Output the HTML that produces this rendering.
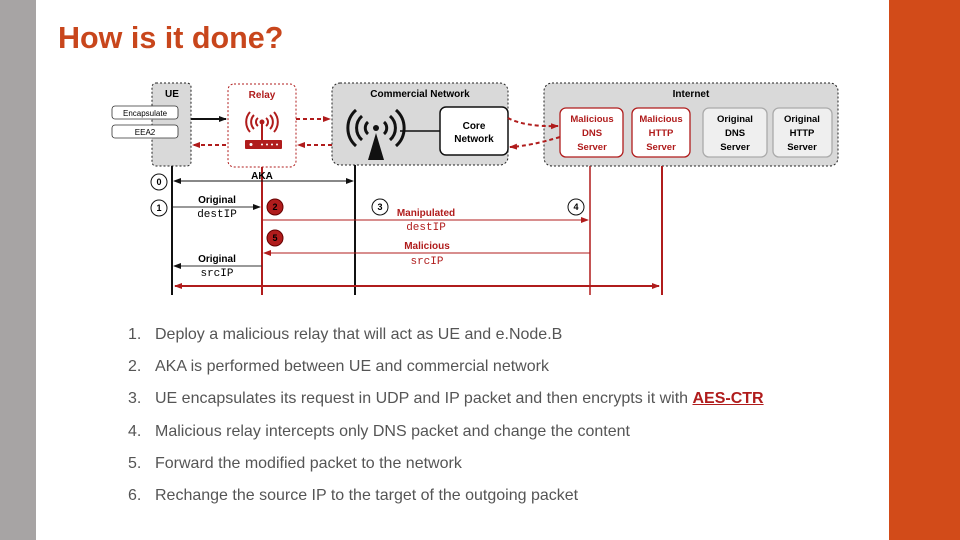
<!DOCTYPE html>
<html><head><style>
body{margin:0;width:960px;height:540px;position:relative;background:#fff;font-family:"Liberation Sans",sans-serif;overflow:hidden}
.l{position:absolute;left:0;top:0;width:36px;height:540px;background:#a7a4a4}
.r{position:absolute;left:889px;top:0;width:71px;height:540px;background:#d24b19}
h1{position:absolute;left:58px;top:21px;margin:0;font-size:30.5px;font-weight:bold;color:#c8461c}
.it{position:absolute;left:128px;font-size:16px;color:#555}
.it span{position:absolute;left:27px;white-space:nowrap}
</style></head><body>
<div class="l"></div><div class="r"></div>
<h1>How is it done?</h1>
<svg style="position:absolute;left:0;top:0" width="960" height="540" font-family="Liberation Sans" font-weight="bold">
<defs>
<marker id="ak" markerWidth="8" markerHeight="8" refX="7" refY="4" orient="auto-start-reverse" markerUnits="userSpaceOnUse"><path d="M0,1 L8,4 L0,7z" fill="#111"/></marker>
<marker id="ar" markerWidth="8" markerHeight="8" refX="7" refY="4" orient="auto-start-reverse" markerUnits="userSpaceOnUse"><path d="M0,1 L8,4 L0,7z" fill="#b01c1c"/></marker>
</defs>
<rect x="152" y="83" width="39" height="83" rx="4" fill="#d9d9d9" stroke="#222" stroke-dasharray="2,2"/>
<text x="172" y="97" font-size="10" text-anchor="middle">UE</text>
<rect x="112" y="106" width="66" height="13" rx="3" fill="#fff" stroke="#333" stroke-width="0.8"/>
<text x="145" y="116" font-size="8" font-weight="normal" text-anchor="middle">Encapsulate</text>
<rect x="112" y="125" width="66" height="13" rx="3" fill="#fff" stroke="#333" stroke-width="0.8"/>
<text x="145" y="135" font-size="8" font-weight="normal" text-anchor="middle">EEA2</text>
<rect x="228" y="84" width="68" height="83" rx="6" fill="#fff" stroke="#b01c1c" stroke-dasharray="2,2"/>
<text x="262" y="98" font-size="10" fill="#b01c1c" text-anchor="middle">Relay</text>
<g fill="none" stroke="#b01c1c" stroke-width="2"><path d="M258,126 a5,5 0 0 1 0,-8 M266,118 a5,5 0 0 1 0,8 M254,129 a10,10 0 0 1 0,-14 M270,115 a10,10 0 0 1 0,14 M250,132 a15,15 0 0 1 0,-20 M274,112 a15,15 0 0 1 0,20"/><line x1="262" y1="122" x2="262" y2="140"/></g>
<circle cx="262" cy="122" r="2.5" fill="#b01c1c"/>
<rect x="245" y="140" width="37" height="9" rx="1" fill="#b01c1c"/>
<g fill="#fff"><circle cx="251" cy="144.5" r="1.5"/><circle cx="262" cy="144.5" r="1"/><circle cx="267" cy="144.5" r="1"/><circle cx="272" cy="144.5" r="1"/><circle cx="277" cy="144.5" r="1"/></g>
<rect x="332" y="83" width="176" height="82" rx="8" fill="#d9d9d9" stroke="#222" stroke-dasharray="2,2"/>
<text x="420" y="97" font-size="10" text-anchor="middle">Commercial Network</text>
<g fill="none" stroke="#111" stroke-width="3"><path d="M368,134 a8,8 0 0 1 0,-12 M384,122 a8,8 0 0 1 0,12 M362,140 a16,16 0 0 1 0,-24 M390,116 a16,16 0 0 1 0,24 M356,146 a24,24 0 0 1 0,-36 M396,110 a24,24 0 0 1 0,36"/></g>
<circle cx="376" cy="128" r="3" fill="#111"/><path d="M376,133 L384,160 L368,160z" fill="#111"/>
<line x1="400" y1="131" x2="440" y2="131" stroke="#111" stroke-width="1.5"/>
<rect x="440" y="107" width="68" height="48" rx="6" fill="#fff" stroke="#111" stroke-width="1.5"/>
<text x="474" y="129" font-size="10" text-anchor="middle">Core</text><text x="474" y="142" font-size="10" text-anchor="middle">Network</text>
<rect x="544" y="83" width="294" height="83" rx="8" fill="#d9d9d9" stroke="#222" stroke-dasharray="2,2"/>
<text x="691" y="97" font-size="10" text-anchor="middle">Internet</text>
<g font-size="9.5" text-anchor="middle">
<rect x="560" y="108" width="63" height="49" rx="6" fill="#fff" stroke="#b01c1c" stroke-width="1.3"/>
<text x="592" y="122" fill="#b01c1c">Malicious</text><text x="592" y="136" fill="#b01c1c">DNS</text><text x="592" y="150" fill="#b01c1c">Server</text>
<rect x="632" y="108" width="58" height="49" rx="6" fill="#fff" stroke="#b01c1c" stroke-width="1.3"/>
<text x="661" y="122" fill="#b01c1c">Malicious</text><text x="661" y="136" fill="#b01c1c">HTTP</text><text x="661" y="150" fill="#b01c1c">Server</text>
<rect x="703" y="108" width="64" height="49" rx="6" fill="#efefef" stroke="#aaa" stroke-width="1.3"/>
<text x="735" y="122">Original</text><text x="735" y="136">DNS</text><text x="735" y="150">Server</text>
<rect x="773" y="108" width="59" height="49" rx="6" fill="#efefef" stroke="#aaa" stroke-width="1.3"/>
<text x="802" y="122">Original</text><text x="802" y="136">HTTP</text><text x="802" y="150">Server</text>
</g>
<line x1="191" y1="119" x2="226" y2="119" stroke="#111" stroke-width="2" marker-end="url(#ak)"/>
<g stroke="#b01c1c" stroke-width="2" stroke-dasharray="4,3" fill="none">
<line x1="296" y1="119" x2="330" y2="119" marker-end="url(#ar)"/>
<line x1="226" y1="145" x2="193" y2="145" marker-end="url(#ar)"/>
<line x1="332" y1="145" x2="298" y2="145" marker-end="url(#ar)"/>
<path d="M508,118 Q525,127 558,126" marker-end="url(#ar)"/>
<path d="M560,137 Q530,146 510,147" marker-end="url(#ar)"/>
</g>
<line x1="172" y1="166" x2="172" y2="295" stroke="#111" stroke-width="2"/>
<line x1="262" y1="167" x2="262" y2="295" stroke="#b01c1c" stroke-width="2"/>
<line x1="355" y1="165" x2="355" y2="295" stroke="#111" stroke-width="2"/>
<line x1="590" y1="166" x2="590" y2="295" stroke="#b01c1c" stroke-width="1.5"/>
<line x1="662" y1="166" x2="662" y2="295" stroke="#b01c1c" stroke-width="2"/>
<line x1="174" y1="181" x2="353" y2="181" stroke="#111" stroke-width="1" marker-start="url(#ak)" marker-end="url(#ak)"/>
<text x="262" y="179" font-size="10" text-anchor="middle">AKA</text>
<line x1="173" y1="207" x2="260" y2="207" stroke="#333" stroke-width="1" marker-end="url(#ak)"/>
<text x="217" y="203" font-size="10" text-anchor="middle">Original</text>
<text x="217" y="217" font-size="11" font-weight="normal" font-family="Liberation Mono" text-anchor="middle">destIP</text>
<line x1="263" y1="220" x2="588" y2="220" stroke="#b01c1c" stroke-width="1" marker-end="url(#ar)"/>
<text x="426" y="216" font-size="10" fill="#b01c1c" text-anchor="middle">Manipulated</text>
<text x="426" y="230" font-size="11" font-weight="normal" font-family="Liberation Mono" fill="#b01c1c" text-anchor="middle">destIP</text>
<line x1="590" y1="253" x2="264" y2="253" stroke="#b01c1c" stroke-width="1" marker-end="url(#ar)"/>
<text x="427" y="249" font-size="10" fill="#b01c1c" text-anchor="middle">Malicious</text>
<text x="427" y="264" font-size="11" font-weight="normal" font-family="Liberation Mono" fill="#b01c1c" text-anchor="middle">srcIP</text>
<line x1="262" y1="266" x2="174" y2="266" stroke="#333" stroke-width="1" marker-end="url(#ak)"/>
<text x="217" y="262" font-size="10" text-anchor="middle">Original</text>
<text x="217" y="276" font-size="11" font-weight="normal" font-family="Liberation Mono" text-anchor="middle">srcIP</text>
<line x1="175" y1="286" x2="659" y2="286" stroke="#b01c1c" stroke-width="2" marker-start="url(#ar)" marker-end="url(#ar)"/>
<g font-size="9" text-anchor="middle">
<circle cx="159" cy="182" r="8" fill="#fff" stroke="#111"/><text x="159" y="185">0</text>
<circle cx="159" cy="208" r="8" fill="#fff" stroke="#111"/><text x="159" y="211">1</text>
<circle cx="275" cy="207" r="8" fill="#b01c1c" stroke="#600"/><text x="275" y="210">2</text>
<circle cx="380" cy="207" r="8" fill="#fff" stroke="#111"/><text x="380" y="210">3</text>
<circle cx="576" cy="207" r="8" fill="#fff" stroke="#111"/><text x="576" y="210">4</text>
<circle cx="275" cy="238" r="8" fill="#b01c1c" stroke="#600"/><text x="275" y="241">5</text>
</g>
</svg>
<div class="it" style="top:326px">1.<span>Deploy a malicious relay that will act as UE and e.Node.B</span></div>
<div class="it" style="top:358px">2.<span>AKA is performed between UE and commercial network</span></div>
<div class="it" style="top:390px">3.<span>UE encapsulates its request in UDP and IP packet and then encrypts it with <b style="color:#b01c1c;text-decoration:underline">AES-CTR</b></span></div>
<div class="it" style="top:423px">4.<span>Malicious relay intercepts only DNS packet and change the content</span></div>
<div class="it" style="top:455px">5.<span>Forward the modified packet to the network</span></div>
<div class="it" style="top:487px">6.<span>Rechange the source IP to the target of the outgoing packet</span></div>
</body></html>
